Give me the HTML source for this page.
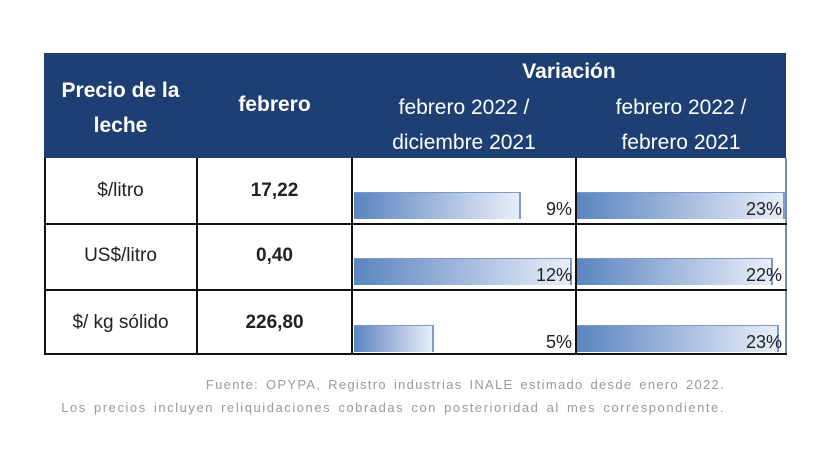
<!DOCTYPE html>
<html><head><meta charset="utf-8"><style>
body{margin:0;width:840px;height:466px;background:#fff;position:relative;overflow:hidden;font-family:"Liberation Sans",sans-serif;}
.hd{position:absolute;left:44px;top:53px;width:742px;height:105px;background:#1d3f73;}
.ht{position:absolute;color:#fff;font-size:21px;text-align:center;white-space:nowrap;}
.hb{font-weight:bold}
.c{position:absolute;color:#222;font-size:19px;text-align:center;}
.bar{position:absolute;height:27px;background:linear-gradient(to right,#5b84c0,#e8eef8);border-top:1px solid #7a9acb;border-right:2px solid #7a9acb;box-sizing:border-box}
.p{position:absolute;font-size:18px;color:#222;text-align:right}
.ln{position:absolute;background:#111}
.ft{position:absolute;font-size:13px;color:#999;text-align:right;right:115px;white-space:nowrap;letter-spacing:1.3px;word-spacing:2px}
</style></head><body>
<div class="hd"></div>
<div class="ht hb" style="left:44px;width:153px;top:73px;line-height:35px">Precio de la<br>leche</div>
<div class="ht hb" style="left:197px;width:155px;top:93px">febrero</div>
<div class="ht hb" style="left:352px;width:434px;top:60px">Variación</div>
<div class="ht" style="left:352px;width:224px;top:90px;line-height:35px">febrero 2022 /<br>diciembre 2021</div>
<div class="ht" style="left:576px;width:210px;top:90px;line-height:35px">febrero 2022 /<br>febrero 2021</div>
<div class="ln" style="left:44px;top:158px;width:2px;height:196px"></div>
<div class="ln" style="left:196px;top:158px;width:2px;height:196px"></div>
<div class="ln" style="left:351px;top:158px;width:2px;height:196px"></div>
<div class="ln" style="left:575px;top:158px;width:2px;height:196px"></div>
<div class="ln" style="left:785px;top:158px;width:2px;height:196px;background:#7a8fb0"></div>
<div class="ln" style="left:44px;top:223px;width:743px;height:2px"></div>
<div class="ln" style="left:44px;top:289px;width:743px;height:2px"></div>
<div class="ln" style="left:44px;top:353px;width:743px;height:2px"></div>
<div class="c" style="left:44px;width:153px;top:180px">$/litro</div>
<div class="c" style="left:197px;width:155px;top:180px;font-weight:bold">17,22</div>
<div class="c" style="left:44px;width:153px;top:245px">US$/litro</div>
<div class="c" style="left:197px;width:155px;top:245px;font-weight:bold">0,40</div>
<div class="c" style="left:44px;width:153px;top:312px">$/ kg sólido</div>
<div class="c" style="left:197px;width:155px;top:312px;font-weight:bold">226,80</div>
<div class="bar" style="left:354px;top:192px;width:167px"></div>
<div class="bar" style="left:354px;top:258px;width:218px"></div>
<div class="bar" style="left:354px;top:325px;width:80px"></div>
<div class="bar" style="left:577px;top:192px;width:208px"></div>
<div class="bar" style="left:577px;top:258px;width:196px"></div>
<div class="bar" style="left:577px;top:325px;width:202px"></div>
<div class="p" style="left:352px;width:220px;top:199px">9%</div>
<div class="p" style="left:352px;width:220px;top:265px">12%</div>
<div class="p" style="left:352px;width:220px;top:332px">5%</div>
<div class="p" style="left:576px;width:206px;top:199px">23%</div>
<div class="p" style="left:576px;width:206px;top:265px">22%</div>
<div class="p" style="left:576px;width:206px;top:332px">23%</div>
<div class="ft" style="top:377px">Fuente: OPYPA, Registro industrias INALE estimado desde enero 2022.</div>
<div class="ft" style="top:400px;letter-spacing:1.55px">Los precios incluyen reliquidaciones cobradas con posterioridad al mes correspondiente.</div>
</body></html>
